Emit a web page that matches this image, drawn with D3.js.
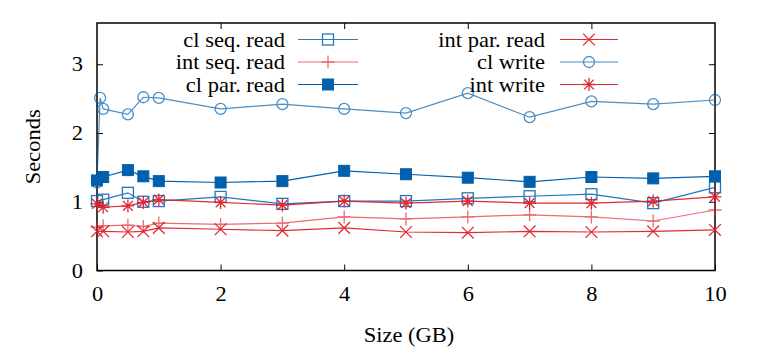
<!DOCTYPE html>
<html>
<head>
<meta charset="utf-8">
<script src="https://cdn.jsdelivr.net/npm/d3@7"></script>
<style>
  html, body { margin: 0; padding: 0; background: #fff; }
  svg { display: block; }
  text { font-family: "Liberation Serif", "Times New Roman", serif; fill: #000; }
</style>
</head>
<body>
<svg id="chart" width="770" height="359"></svg>
<script>
// ---- data ----
const sizes = [0, 0.05, 0.1, 0.5, 0.75, 1, 2, 3, 4, 5, 6, 7, 8, 9, 10];
const clSeqRead  = [1.01, null, 1.03, 1.13, 1.00, 1.01, 1.07, 0.97, 1.01, 1.01, 1.05, 1.08, 1.11, 0.98, 1.21];
const intSeqRead = [0.63, null, 0.65, 0.66, 0.64, 0.69, 0.67, 0.69, 0.78, 0.75, 0.78, 0.81, 0.78, 0.72, 0.88];
const clParRead  = [1.31, null, 1.36, 1.46, 1.37, 1.30, 1.28, 1.30, 1.45, 1.40, 1.35, 1.29, 1.36, 1.34, 1.37];
const intParRead = [0.57, null, 0.57, 0.56, 0.57, 0.62, 0.60, 0.58, 0.62, 0.56, 0.55, 0.57, 0.56, 0.57, 0.59];
const clWrite    = [1.28, 2.51, 2.35, 2.27, 2.52, 2.51, 2.35, 2.42, 2.35, 2.29, 2.58, 2.23, 2.46, 2.42, 2.48];
const intWrite   = [0.97, null, 0.92, 0.94, 0.99, 1.03, 0.99, 0.95, 1.01, 0.98, 1.01, 0.98, 0.98, 1.01, 1.07];
const xTicks = [0, 2, 4, 6, 8, 10];
const yTicks = [0, 1, 2, 3];
const xLabel = "Size (GB)";
const yLabel = "Seconds";

const BLUE = "#0060ad", RED = "#e0202a";
const series = [
  { name: "cl seq. read",  values: clSeqRead,  color: BLUE, op: 0.85, marker: "openSquare", col: 0, row: 0 },
  { name: "int seq. read", values: intSeqRead, color: RED,  op: 0.65, marker: "plus",       col: 0, row: 1 },
  { name: "cl par. read",  values: clParRead,  color: BLUE, op: 1.0,  marker: "filledSquare", col: 0, row: 2 },
  { name: "int par. read", values: intParRead, color: RED,  op: 0.95, marker: "cross",      col: 1, row: 0 },
  { name: "cl write",      values: clWrite,    color: BLUE, op: 0.7,  marker: "circle",     col: 1, row: 1 },
  { name: "int write",     values: intWrite,   color: RED,  op: 0.95, marker: "star",       col: 1, row: 2 }
];

// ---- layout ----
const L = 97, R = 715, T = 23, B = 270.5;
const svg = d3.select("#chart");
const x = d3.scaleLinear().domain([0, 10]).range([L, R]);
const y = d3.scaleLinear().domain([0, 3.6]).range([B, T]);
const FS = 21;
const SX = 1.07;   // slight horizontal stretch of the reference's type
const tickLen = 6;

// ticks (inward, mirrored)
const axB = d3.axisBottom(x).tickValues(xTicks).tickSize(-tickLen).tickPadding(15.6).tickFormat(d3.format("d"));
const axL = d3.axisLeft(y).tickValues(yTicks).tickSize(-tickLen).tickPadding(13).tickFormat(d3.format("d"));
const axT = d3.axisTop(x).tickValues(xTicks.slice(1, -1)).tickSize(-tickLen).tickFormat("");
const axR = d3.axisRight(y).tickValues(yTicks.slice(1)).tickSize(-tickLen).tickFormat("");

function styleAxis(g) {
  g.select(".domain").remove();
  g.selectAll(".tick line").attr("stroke", "#000").attr("stroke-width", 1);
  g.selectAll(".tick text").style("font-size", FS + "px").style("font-family", '"Liberation Serif", serif')
    .attr("fill", "#000").attr("transform", `scale(${SX},1)`);
}
svg.append("g").attr("transform", `translate(0,${B})`).call(axB).call(styleAxis);
svg.append("g").attr("transform", `translate(${L},0)`).call(axL).call(styleAxis);
svg.append("g").attr("transform", `translate(0,${T})`).call(axT).call(styleAxis);
svg.append("g").attr("transform", `translate(${R},0)`).call(axR).call(styleAxis);

// frame
svg.append("rect").attr("x", L).attr("y", T).attr("width", R - L).attr("height", B - T)
  .attr("fill", "none").attr("stroke", "#000").attr("stroke-width", 1.5);

// axis labels
svg.append("text").attr("transform", `translate(${(L + R) / 2 + 3},342) scale(${SX},1)`).attr("text-anchor", "middle")
  .style("font-size", FS + "px").text(xLabel);
svg.append("text").attr("transform", `translate(40,${(T + B) / 2}) rotate(-90) scale(${SX},1)`)
  .attr("text-anchor", "middle").style("font-size", FS + "px").text(yLabel);

// markers
function drawMarker(g, type, cx, cy, color) {
  const s = 5.5;
  if (type === "openSquare") {
    g.append("rect").attr("x", cx - s).attr("y", cy - s).attr("width", 2 * s).attr("height", 2 * s)
      .attr("fill", "none").attr("stroke", color).attr("stroke-width", 1.3);
  } else if (type === "filledSquare") {
    g.append("rect").attr("x", cx - s).attr("y", cy - s).attr("width", 2 * s).attr("height", 2 * s)
      .attr("fill", color).attr("stroke", color).attr("stroke-width", 1);
  } else if (type === "circle") {
    g.append("circle").attr("cx", cx).attr("cy", cy).attr("r", s)
      .attr("fill", "none").attr("stroke", color).attr("stroke-width", 1.3);
  } else {
    const p = d3.path();
    const r = 6.5;
    if (type === "plus" || type === "star") {
      p.moveTo(cx - r, cy); p.lineTo(cx + r, cy);
      p.moveTo(cx, cy - r); p.lineTo(cx, cy + r);
    }
    if (type === "cross" || type === "star") {
      const d = type === "star" ? r * 0.75 : r * 0.9;
      p.moveTo(cx - d, cy - d); p.lineTo(cx + d, cy + d);
      p.moveTo(cx - d, cy + d); p.lineTo(cx + d, cy - d);
    }
    g.append("path").attr("d", p.toString()).attr("stroke", color).attr("stroke-width", 1.3).attr("fill", "none");
  }
}

const line = d3.line().x(d => x(d[0])).y(d => y(d[1]));
const plot = svg.append("g");
series.forEach(s => {
  const pts = sizes.map((sz, i) => [sz, s.values[i]]).filter(d => d[1] != null);
  const g = plot.append("g").attr("opacity", s.op);
  g.append("path").datum(pts).attr("d", line).attr("fill", "none")
    .attr("stroke", s.color).attr("stroke-width", 1.2);
  pts.forEach(d => drawMarker(g, s.marker, x(d[0]), y(d[1]), s.color));
});

// legend
const legCols = [{ textX: 285, x1: 298, x2: 358 }, { textX: 545, x1: 560, x2: 618 }];
const legRows = [39.5, 62, 84.5];
series.forEach(s => {
  const c = legCols[s.col], ry = legRows[s.row];
  svg.append("text").attr("transform", `translate(${c.textX},${ry + 7}) scale(${SX},1)`).attr("text-anchor", "end")
    .style("font-size", FS + "px").text(s.name);
  const g = svg.append("g").attr("opacity", s.op);
  g.append("line").attr("x1", c.x1).attr("x2", c.x2).attr("y1", ry).attr("y2", ry)
    .attr("stroke", s.color).attr("stroke-width", 1.2);
  drawMarker(g, s.marker, (c.x1 + c.x2) / 2, ry, s.color);
});
</script>
</body>
</html>
